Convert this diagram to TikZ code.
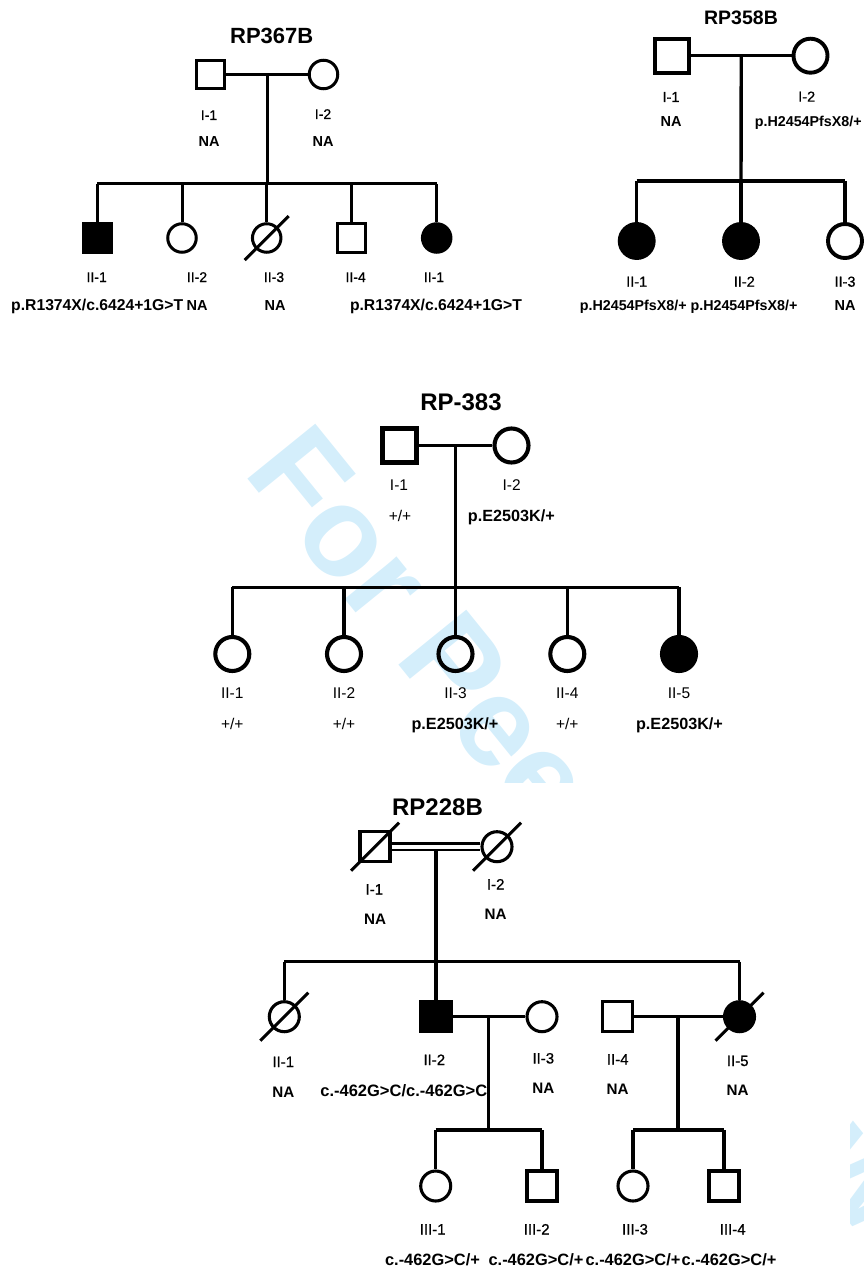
\documentclass[tikz,border=0pt]{standalone}
\usepackage{fontspec}
\setmainfont{Liberation Sans}
\newfontfamily\medfont[FakeBold=0.7]{Liberation Sans}
\usetikzlibrary{calc}
\definecolor{wmark}{RGB}{212,238,251}
\newcommand{\fs}[1]{\fontsize{#1}{#1}\selectfont}

\begin{document}
\begin{tikzpicture}[
    x=1pt,y=-1pt,
    sq/.style={rectangle,draw=black,inner sep=0pt,minimum size=\sz},
    ci/.style={circle,draw=black,inner sep=0pt,minimum size=\sz},
    lab/.style={anchor=base,inner sep=0pt,font=\fs{#1}},
    mlab/.style={anchor=base,inner sep=0pt,font=\fs{#1}\medfont},
    gt/.style={anchor=base,inner sep=0pt,font=\fs{#1}\bfseries},
    ttl/.style={anchor=base,inner sep=0pt,font=\fs{#1}\bfseries}
  ]
    \useasboundingbox (0,0) rectangle (863,1268);
    % watermark, hidden under the lower panel
    \node[rotate=-51,anchor=base west,inner sep=0pt,text=wmark,font=\fs{127}\bfseries] (wm) at (242,472) {For Peer Review};
    \fill[white] (0,783) rectangle (850,1268);

    % RP367B
    \begin{scope}[line width=3pt]
    \def\sz{28.5pt}
    \node[ttl=22] (at) at (271.7,44) {RP367B};
    \node[sq] (a1) at (210.5,74.5) {}; \node[ci] (a2) at (323.5,74.5) {};
    \node[sq,fill=black] (a3) at (97.3,238) {}; \node[ci] (a4) at (182,238) {};
    \node[ci] (a5) at (266.7,238) {}; \node[sq] (a6) at (351.7,238) {};
    \node[ci,fill=black] (a7) at (436.7,238) {};
    \coordinate (a0) at ($(a1)!.5!(a2)$); \coordinate (as) at (267,184);
    \draw (a1) -- (a2); \draw (a0) -- (as); \draw (a3 |- as) -- (a7 |- as);
    \foreach \c in {a3,a4,a5,a6,a7} {\draw (\c |- as) -- (\c);}
    \draw ([shift={(-22,22)}]a5.center) -- ([shift={(22,-22)}]a5.center);
    \node[mlab=14] (la1) at (209,120) {I-1}; \node[gt=14.5] (ga1) at (209,147) {NA};
    \node[mlab=14] (la2) at (323,119) {I-2}; \node[gt=14.5] (ga2) at (323,147) {NA};
    \foreach \n/\x/\t in {a3/96.7/II-1,a4/197/II-2,a5/274/II-3,a6/355.7/II-4,a7/434/II-1}
      {\node[mlab=14] (l\n) at (\x,282) {\t};}
    \node[gt=15.7] (ga3) at (97.2,310.7) {p.R1374X/c.6424+1G>T};
    \node[gt=14.5] (ga4) at (197,310.7) {NA}; \node[gt=14.5] (ga5) at (275,310.7) {NA};
    \node[gt=15.7] (ga7) at (436,310.7) {p.R1374X/c.6424+1G>T};
    \end{scope}

    % RP358B
    \begin{scope}[line width=3.4pt,sq/.append style={line width=3.9pt},ci/.append style={line width=3.9pt}]
    \def\sz{34pt}
    \node[ttl=19.5] (bt) at (741,25) {RP358B};
    \node[sq] (b1) at (672,55.7) {}; \node[ci] (b2) at (810.5,55.7) {};
    \node[ci,fill=black] (b3) at (636.7,241) {}; \node[ci,fill=black] (b4) at (741,241) {};
    \node[ci] (b5) at (845,241) {};
    \coordinate (b0) at ($(b1)!.5!(b2)$); \coordinate (bs) at (741,181);
    \draw (b1) -- (b2); \draw (b0) -- (bs); \draw (b3 |- bs) -- (b5 |- bs);
    \foreach \c in {b3,b4,b5} {\draw (\c |- bs) -- (\c);}
    \node[mlab=14.5] (lb1) at (671,102) {I-1}; \node[gt=14.5] (gb1) at (671,126.7) {NA};
    \node[mlab=14.5] (lb2) at (806.7,101.7) {I-2}; \node[gt=14.3] (gb2) at (808.3,126.7) {p.H2454PfsX8/+};
    \foreach \n/\x/\t in {b3/636.7/II-1,b4/744.3/II-2,b5/845/II-3}
      {\node[mlab=14.5] (l\n) at (\x,286.7) {\t};}
    \node[gt=14.3] (gb3) at (633.3,310) {p.H2454PfsX8/+};
    \node[gt=14.3] (gb4) at (744,310) {p.H2454PfsX8/+};
    \node[gt=14.5] (gb5) at (845,310) {NA};
    \end{scope}

    % RP-383
    \begin{scope}[line width=3.6pt,sq/.append style={line width=4.1pt},ci/.append style={line width=4.1pt}]
    \def\sz{34pt}
    \node[ttl=24] (ct) at (461,410) {RP-383};
    \node[sq] (c1) at (399.5,445.5) {}; \node[ci] (c2) at (511.5,445.5) {};
    \node[ci] (c3) at (232.3,654) {}; \node[ci] (c4) at (344,654) {};
    \node[ci] (c5) at (455.5,654) {}; \node[ci] (c6) at (567.3,654) {};
    \node[ci,fill=black] (c7) at (679,654) {};
    \coordinate (c0) at ($(c1)!.5!(c2)$); \coordinate (cs) at (455.5,587.3);
    \draw (c1) -- (c2); \draw (c0) -- (cs); \draw (c3 |- cs) -- (c7 |- cs);
    \foreach \c in {c3,c4,c5,c6,c7} {\draw (\c |- cs) -- (\c);}
    \node[lab=15.5] (lc1) at (399,490) {I-1}; \node[lab=15.5] (gc1) at (400,521) {+/+};
    \node[lab=15.5] (lc2) at (511.7,490.5) {I-2}; \node[gt=16.2] (gc2) at (511.3,521) {p.E2503K/+};
    \foreach \n/\x/\t in {c3/232.3/II-1,c4/344/II-2,c6/567.3/II-4}
      {\node[lab=15.5] (l\n) at (\x,698) {\t}; \node[lab=15.5] (g\n) at (\x,729) {+/+};}
    \node[lab=15.5] (lc5) at (455.5,698) {II-3}; \node[gt=16.2] (gc5) at (455,729) {p.E2503K/+};
    \node[lab=15.5] (lc7) at (679,698) {II-5}; \node[gt=16.2] (gc7) at (679.5,729) {p.E2503K/+};
    \end{scope}

    % RP228B
    \begin{scope}[line width=3.1pt]
    \def\sz{30pt}
    \node[ttl=24] (dt) at (437.5,815) {RP228B};
    \node[sq] (d1) at (375,846.7) {}; \node[ci] (d2) at (497,846.7) {};
    \node[ci] (d3) at (284.3,1016.7) {}; \node[sq,fill=black] (d4) at (436,1016.7) {};
    \node[ci] (d5) at (542,1016.7) {}; \node[sq] (d6) at (617.7,1016.7) {};
    \node[ci,fill=black] (d7) at (739.5,1016.7) {};
    \node[ci] (e1) at (435.7,1186) {}; \node[sq] (e2) at (542,1186) {};
    \node[ci] (e3) at (633,1186) {}; \node[sq] (e4) at (724,1186) {};
    \draw[double,double distance=3.6pt,line width=2.9pt] (d1) -- (d2);
    \coordinate (d0) at (436,850); \coordinate (ds) at (436,961.7);
    \draw (d0) -- (ds); \draw (d3 |- ds) -- (d7 |- ds);
    \foreach \c in {d3,d4,d7} {\draw (\c |- ds) -- (\c);}
    \draw (d4) -- (d5); \draw (d6) -- (d7);
    \coordinate (d45) at (488.5,1016.7); \coordinate (d45s) at (488.5,1130);
    \coordinate (d67) at (678,1016.7); \coordinate (d67s) at (678,1130);
    \draw (d45) -- (d45s); \draw (e1 |- d45s) -- (e2 |- d45s);
    \draw (d67) -- (d67s); \draw (e3 |- d67s) -- (e4 |- d67s);
    \foreach \c in {e1,e2,e3,e4} {\draw (\c |- d45s) -- (\c);}
    \foreach \c in {d1,d2,d3,d7}
      {\draw ([shift={(-24,24)}]\c.center) -- ([shift={(24,-24)}]\c.center);}
    \node[mlab=15] (ld1) at (374.3,894.5) {I-1}; \node[gt=15.2] (gd1) at (375,924.5) {NA};
    \node[mlab=15] (ld2) at (495.7,889.5) {I-2}; \node[gt=15.2] (gd2) at (495.7,919.5) {NA};
    \node[mlab=15] (ld3) at (283.3,1067) {II-1}; \node[gt=15.2] (gd3) at (283.3,1097) {NA};
    \node[mlab=15] (ld4) at (434.3,1065) {II-2}; \node[gt=16.5] (gd4) at (403.8,1096.5) {c.-462G>C/c.-462G>C};
    \node[mlab=15] (ld5) at (543.3,1063.5) {II-3}; \node[gt=15.2] (gd5) at (543.3,1093.5) {NA};
    \node[mlab=15] (ld6) at (617.7,1064.5) {II-4}; \node[gt=15.2] (gd6) at (617.7,1094.5) {NA};
    \node[mlab=15] (ld7) at (737.7,1066) {II-5}; \node[gt=15.2] (gd7) at (737.7,1095.5) {NA};
    \foreach \n/\x/\gx/\t in {e1/432.7/432.5/III-1,e2/536.7/536/III-2,e3/635/633/III-3,e4/732.7/729/III-4}
      {\node[mlab=15] (l\n) at (\x,1234.5) {\t};
       \node[gt=16.4] (g\n) at (\gx,1265.5) {c.-462G>C/+};}
    \end{scope}
\end{tikzpicture}
\end{document}
